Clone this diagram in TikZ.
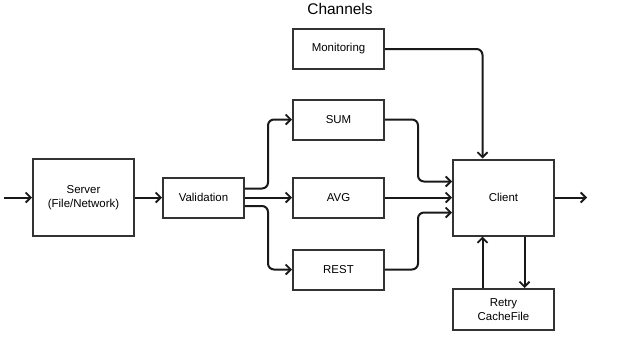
\documentclass[tikz,border=0pt]{standalone}
\usepackage{fontspec}
\setmainfont{Liberation Sans}
\usetikzlibrary{arrows.meta}
\begin{document}
\begin{tikzpicture}[x=1bp,y=-1bp,
  box/.style={draw=black!80, line width=2bp, fill=white, inner sep=0pt,
    font=\fontsize{11.5}{13.5}\selectfont, align=center},
  flow/.style={draw=black!90, line width=2bp, rounded corners=6bp,
    -{Straight Barb[length=5bp,width=10bp,line width=1.8bp]}}]
\useasboundingbox (0,0) rectangle (636,350);

% boxes
\node[box, minimum width=101bp, minimum height=77bp] (server) at (83.5,197.5) {Server\\(File/Network)};
\node[box, minimum width=81bp, minimum height=40bp] (valid) at (203.5,197.5) {Validation};
\node[box, minimum width=91bp, minimum height=40bp] (mon) at (338.5,49) {Monitoring};
\node[box, minimum width=91bp, minimum height=40bp] (sum) at (338.5,119.5) {SUM};
\node[box, minimum width=91bp, minimum height=40bp] (avg) at (338.5,197.5) {AVG};
\node[box, minimum width=91bp, minimum height=40bp] (rest) at (338.5,269.5) {REST};
\node[box, minimum width=101bp, minimum height=76bp] (client) at (503.5,197.5) {Client};
\node[box, minimum width=101bp, minimum height=41bp] (retry) at (503.5,309.5) {Retry\\CacheFile};
\node[font=\fontsize{15.5}{17}\selectfont] (title) at (340,9) {Channels};

% free ends
\coordinate (in) at (4,197.5);
\coordinate (out) at (587,197.5);

% main path
\draw[flow] (in) -- (server.west);
\draw[flow] (server.east) -- (valid.west);

% fan-out from validation (canvas yshift points up on the page)
\draw[flow] ([yshift=9bp]valid.east) -| (268,119.5) -- (sum.west);
\draw[flow] (valid.east) -- (avg.west);
\draw[flow] ([yshift=-8.5bp]valid.east) -| (268,269.5) -- (rest.west);

% merge into client
\draw[flow] (sum.east) -| (418,181.5) -- ([yshift=16bp]client.west);
\draw[flow] (avg.east) -- (client.west);
\draw[flow] (rest.east) -| (418,212.5) -- ([yshift=-15bp]client.west);
\draw[flow] (mon.east) -| ([xshift=-21bp]client.north);
\draw[flow] (client.east) -- (out);

% retry loop
\draw[flow] ([xshift=-21bp]retry.north) -- ([xshift=-21bp]client.south);
\draw[flow] ([xshift=21bp]client.south) -- ([xshift=21bp]retry.north);
\end{tikzpicture}
\end{document}
